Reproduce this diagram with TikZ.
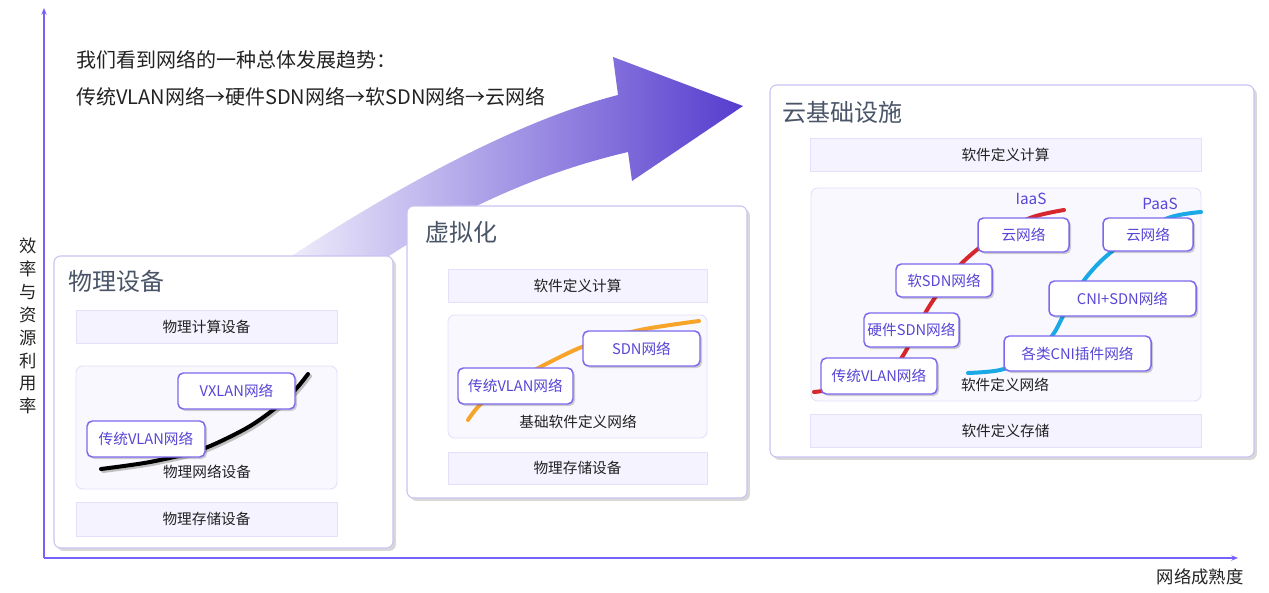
\documentclass[tikz,border=0pt]{standalone}
\usepackage{fontspec}
\setmainfont{Noto Sans CJK SC}
\usetikzlibrary{fit,shadows,arrows.meta}
\definecolor{axisc}{RGB}{118,98,250}
\definecolor{boxb}{RGB}{200,194,242}
\definecolor{subfill}{RGB}{245,243,255}
\definecolor{subb}{RGB}{228,224,251}
\definecolor{netfill}{RGB}{249,248,255}
\definecolor{lblb}{RGB}{123,104,238}
\definecolor{lbltxt}{RGB}{88,70,214}
\definecolor{titc}{RGB}{74,85,104}
\definecolor{txtc}{RGB}{34,34,34}
\definecolor{redc}{RGB}{214,40,44}
\definecolor{orac}{RGB}{247,165,42}
\definecolor{bluc}{RGB}{27,169,230}
\definecolor{arrA}{RGB}{238,236,251}
\definecolor{arrB}{RGB}{86,60,206}
\tikzset{
  bigbox/.style={draw=boxb, line width=0.8pt, fill=white, rounded corners=5pt, inner sep=0pt,
    drop shadow={shadow xshift=2.2pt, shadow yshift=-2.2pt, opacity=0.22, fill=black!70}},
  subbox/.style={draw=subb, line width=0.7pt, fill=subfill, inner sep=0pt},
  subtx/.style={text=txtc, font=\fontsize{11}{13}\selectfont, inner sep=0pt},
  netbox/.style={draw=subb, line width=0.7pt, fill=netfill, rounded corners=5pt, inner sep=0pt},
  lbl/.style={draw=lblb, line width=1.1pt, fill=white, rounded corners=4pt, inner sep=0pt,
    drop shadow={shadow xshift=1.5pt, shadow yshift=-1.5pt, opacity=0.18, fill=black}},
  lbltx/.style={text=lbltxt, font=\fontsize{11}{13}\selectfont, inner sep=0pt},
  boxtitle/.style={anchor=west, text=titc, font=\fontsize{18}{20}\selectfont, inner sep=0pt},
  nettext/.style={text=txtc, font=\fontsize{11}{13}\selectfont, inner sep=0pt},
  curve/.style={line width=3pt, line cap=round},
  axis/.style={draw=axisc, line width=1.1pt, -{Stealth[length=5pt,width=4pt]}},
  tag/.style={text=lbltxt, font=\fontsize{11.5}{13}\selectfont, inner sep=0pt}
}
\begin{document}
\begin{tikzpicture}[x=0.75pt,y=-0.75pt]
\useasboundingbox (0,0) rectangle (1269,592);

% axes
\coordinate (O) at (44,558);
\coordinate (Ytop) at (44,8);
\coordinate (Xend) at (1238,558);
\draw[axis] (O) -- (Ytop);
\draw[axis] (O) -- (Xend);
\node[text=txtc, font=\fontsize{13}{17.2}\selectfont, align=center, inner sep=0pt] (ylab) at (28,326) {效\\率\\与\\资\\源\\利\\用\\率};
\node[text=txtc, font=\fontsize{13}{15}\selectfont, inner sep=0pt] (xlab) at (1200,577) {网络成熟度};

% headline
\node[anchor=west, text=txtc, font=\fontsize{15}{17}\selectfont, inner sep=0pt] (h1) at (76,60) {我们看到网络的一种总体发展趋势：};
\node[anchor=west, text=txtc, font=\fontsize{15}{17}\selectfont, inner sep=0pt] (h2) at (76,97) {传统VLAN网络→硬件SDN网络→软SDN网络→云网络};

% big gradient arrow
\shade[left color=arrA, right color=arrB]
  (290,257) .. controls (400,185) and (520,120) .. (618,95) -- (613,57) -- (743,106)
  -- (632,181) -- (628,152) .. controls (530,175) and (450,215) .. (380,262) -- cycle;

% ===== Box 1 =====
\node[bigbox, fit={(54,256) (393,548)}] (b1) {};
\node[boxtitle] (b1t) at (68,281) {物理设备};
\node[subbox, fit={(76,310) (337,343)}, label={[subtx]center:物理计算设备}] (b1c) {};
\node[netbox, fit={(76,366) (337,489)}] (b1n) {};
\node[subbox, fit={(76,502) (337,536)}, label={[subtx]center:物理存储设备}] (b1s) {};
\draw[curve, black!25, xshift=1.5pt, yshift=-1.5pt] plot[smooth] coordinates {(101,469) (150,462) (200,450) (245,429) (273,410) (295,390) (308,374)};
\draw[curve, black] plot[smooth] coordinates {(101,469) (150,462) (200,450) (245,429) (273,410) (295,390) (308,374)};
\node[nettext] (b1nt) at (207,472) {物理网络设备};
\node[lbl, fit={(87,421) (205,457)}, label={[lbltx]center:传统VLAN网络}] (b1l1) {};
\node[lbl, fit={(178,373) (295,409)}, label={[lbltx]center:VXLAN网络}] (b1l2) {};

% ===== Box 2 =====
\node[bigbox, fit={(407,206) (747,498)}] (b2) {};
\node[boxtitle] (b2t) at (425,232) {虚拟化};
\node[subbox, fit={(448,269) (707,302)}, label={[subtx]center:软件定义计算}] (b2c) {};
\node[netbox, fit={(448,315) (707,438)}] (b2n) {};
\node[subbox, fit={(448,452) (707,484)}, label={[subtx]center:物理存储设备}] (b2s) {};
\draw[curve, orac] plot[smooth] coordinates {(468,420) (482,403) (517,380) (550,362) (587,345) (640,330) (699,321)};
\node[nettext] (b2nt) at (578,422) {基础软件定义网络};
\node[lbl, fit={(458,368) (573,404)}, label={[lbltx]center:传统VLAN网络}] (b2l1) {};
\node[lbl, fit={(583,331) (700,366)}, label={[lbltx]center:SDN网络}] (b2l2) {};

% ===== Box 3 =====
\node[bigbox, fit={(770,85) (1254,457)}] (b3) {};
\node[boxtitle] (b3t) at (782,112) {云基础设施};
\node[subbox, fit={(810,138) (1201,171)}, label={[subtx]center:软件定义计算}] (b3c) {};
\node[netbox, fit={(811,188) (1201,401)}] (b3n) {};
\node[subbox, fit={(810,414) (1201,447)}, label={[subtx]center:软件定义存储}] (b3s) {};
\draw[curve, redc] plot[smooth] coordinates {(814,392) (870,383) (900,360) (927,310) (945,284) (963,262) (990,240) (1030,218) (1064,210)};
\draw[curve, bluc] plot[smooth] coordinates {(968,373) (1000,370) (1033,357) (1054,333) (1070,302) (1085,279) (1102,260) (1125,242) (1168,218) (1201,212)};
\node[tag] (iaas) at (1031,199) {IaaS};
\node[tag] (paas) at (1160,204) {PaaS};
\node[nettext] (b3nt) at (1005,385) {软件定义网络};
\node[lbl, fit={(978,218) (1069,252)}, label={[lbltx]center:云网络}] (b3l1) {};
\node[lbl, fit={(896,264) (992,297)}, label={[lbltx]center:软SDN网络}] (b3l2) {};
\node[lbl, fit={(864,313) (959,347)}, label={[lbltx]center:硬件SDN网络}] (b3l3) {};
\node[lbl, fit={(821,358) (937,394)}, label={[lbltx]center:传统VLAN网络}] (b3l4) {};
\node[lbl, fit={(1103,218) (1193,251)}, label={[lbltx]center:云网络}] (b3l5) {};
\node[lbl, fit={(1049,281) (1196,316)}, label={[lbltx]center:CNI+SDN网络}] (b3l6) {};
\node[lbl, fit={(1004,336) (1151,371)}, label={[lbltx]center:各类CNI插件网络}] (b3l7) {};
\end{tikzpicture}
\end{document}
